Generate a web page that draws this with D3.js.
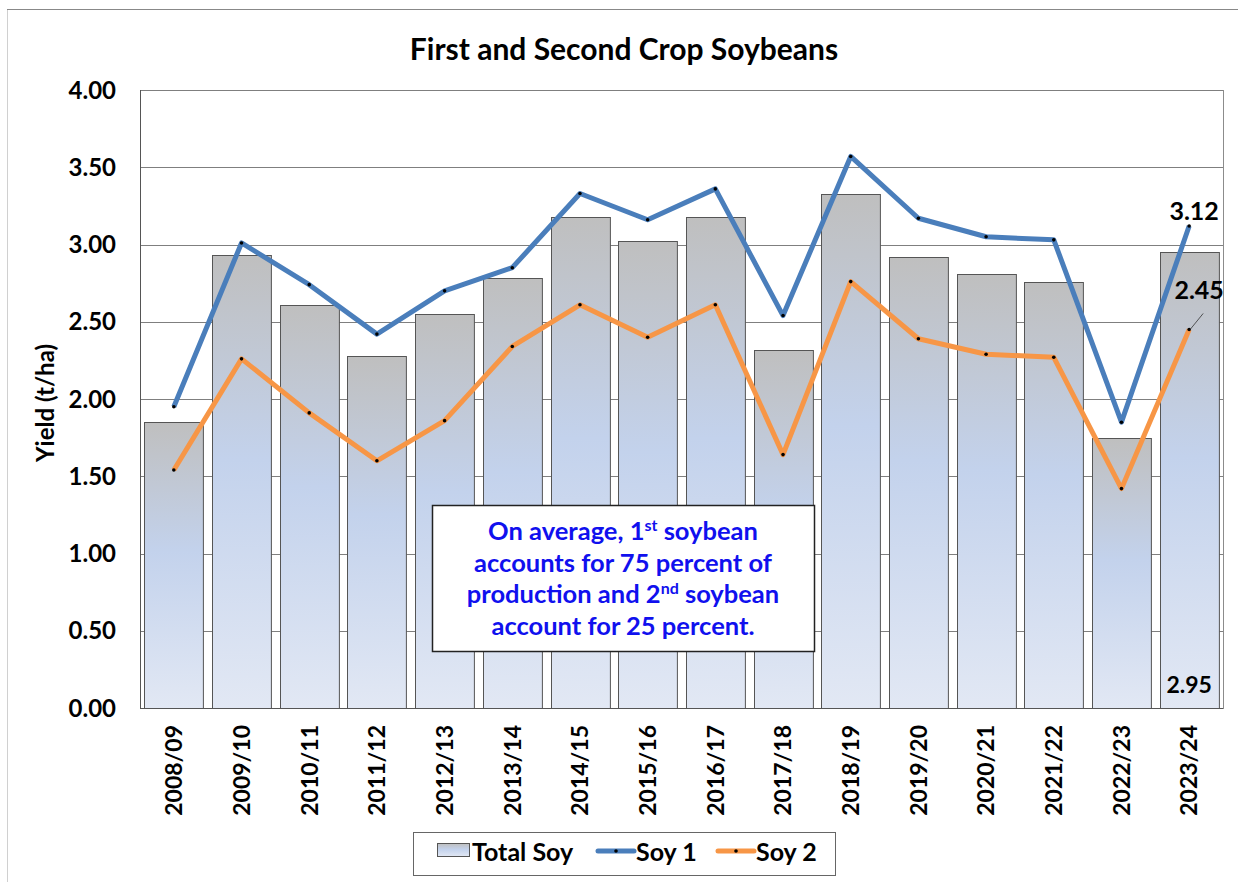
<!DOCTYPE html>
<html lang="en">
<head>
    <meta charset="UTF-8">
    <title>First and Second Crop Soybeans</title>
    <script src="https://d3js.org/d3.v7.min.js"></script>
    <style>
        body { margin: 0; background: #fff; }
        svg { display: block; font-family: Lato, "Open Sans", sans-serif; font-weight: bold; }
    </style>
</head>
<body>
    <svg></svg>
    <script>
        const seasons = ["2008/09", "2009/10", "2010/11", "2011/12", "2012/13", "2013/14", "2014/15", "2015/16",
            "2016/17", "2017/18", "2018/19", "2019/20", "2020/21", "2021/22", "2022/23", "2023/24"];
        const totalSoy = [1.85, 2.93, 2.61, 2.28, 2.55, 2.78, 3.18, 3.02, 3.18, 2.32, 3.33, 2.92, 2.81, 2.76, 1.75, 2.95];
        const soy1 = [1.95, 3.01, 2.74, 2.42, 2.70, 2.85, 3.33, 3.16, 3.36, 2.54, 3.57, 3.17, 3.05, 3.03, 1.85, 3.12];
        const soy2 = [1.54, 2.26, 1.91, 1.60, 1.86, 2.34, 2.61, 2.40, 2.61, 1.64, 2.76, 2.39, 2.29, 2.27, 1.42, 2.45];
        const yTicks = [0, 0.5, 1, 1.5, 2, 2.5, 3, 3.5, 4];
        const noteLines = [
            ["On average, 1", "st", " soybean"],
            ["accounts for 75 percent of"],
            ["production and 2", "nd", " soybean"],
            ["account for 25 percent."]
        ];

        const W = 1238, H = 882;
        const plotL = 140, plotR = 1223, plotT = 90, plotB = 708;

        const svg = d3.select("svg").attr("width", W).attr("height", H);

        const defs = svg.append("defs");
        const grad = defs.append("linearGradient")
            .attr("id", "barGrad")
            .attr("x1", 0).attr("y1", 0).attr("x2", 0).attr("y2", 1);
        grad.append("stop").attr("offset", "0%").attr("stop-color", "#bfbfbf");
        grad.append("stop").attr("offset", "45%").attr("stop-color", "#c3d2ec");
        grad.append("stop").attr("offset", "100%").attr("stop-color", "#e2e8f4");

        // chart frame
        svg.append("rect")
            .attr("x", 7.5).attr("y", 9.5)
            .attr("width", W - 5).attr("height", H)
            .attr("fill", "none").attr("stroke", "#d0d0d0");
        svg.append("line")
            .attr("x1", 7).attr("x2", W).attr("y1", 9.5).attr("y2", 9.5)
            .attr("stroke", "#888");

        const x = d3.scaleBand().domain(seasons).range([plotL, plotR]).paddingInner(0.13).paddingOuter(0.065);
        const y = d3.scaleLinear().domain([0, 4]).range([plotB, plotT]);

        // plot border + gridlines
        svg.append("rect")
            .attr("x", plotL + 0.5).attr("y", plotT + 0.5)
            .attr("width", plotR - plotL).attr("height", plotB - plotT)
            .attr("fill", "#fff").attr("stroke", "#8c8c8c");

        svg.append("g")
            .selectAll("line")
            .data(yTicks)
            .join("line")
            .attr("x1", plotL).attr("x2", plotR)
            .attr("y1", d => Math.round(y(d)) + 0.5).attr("y2", d => Math.round(y(d)) + 0.5)
            .attr("stroke", "#7f7f7f");

        // bars
        svg.append("g")
            .selectAll("rect")
            .data(totalSoy)
            .join("rect")
            .attr("x", (d, i) => Math.round(x(seasons[i])) + 0.5)
            .attr("y", d => Math.round(y(d)) + 0.5)
            .attr("width", x.bandwidth())
            .attr("height", d => plotB - Math.round(y(d)))
            .attr("fill", "url(#barGrad)")
            .attr("stroke", "#555");

        // axes lines
        svg.append("line")
            .attr("x1", plotL + 0.5).attr("x2", plotL + 0.5).attr("y1", plotT).attr("y2", plotB)
            .attr("stroke", "#555");
        svg.append("line")
            .attr("x1", plotL).attr("x2", plotR).attr("y1", plotB + 0.5).attr("y2", plotB + 0.5)
            .attr("stroke", "#555");

        // y tick labels
        svg.append("g")
            .selectAll("text")
            .data(yTicks)
            .join("text")
            .attr("x", 116)
            .attr("y", d => y(d))
            .attr("dy", "0.36em")
            .attr("text-anchor", "end")
            .attr("font-size", 24)
            .text(d => d3.format(".2f")(d));

        // y title
        svg.append("text")
            .attr("transform", `translate(54,${(plotT + plotB) / 2 + 4}) rotate(-90)`)
            .attr("text-anchor", "middle")
            .attr("font-size", 24)
            .text("Yield (t/ha)");

        // x labels
        svg.append("g")
            .selectAll("text")
            .data(seasons)
            .join("text")
            .attr("transform", d => `translate(${x(d) + x.bandwidth() / 2},725) rotate(-90)`)
            .attr("dy", "0.36em")
            .attr("text-anchor", "end")
            .attr("font-size", 23)
            .text(d => d);

        // lines
        const cx = i => x(seasons[i]) + x.bandwidth() / 2;
        const line = d3.line().x((d, i) => cx(i)).y(d => y(d));
        const series = [
            { name: "Soy 1", values: soy1, color: "#4a7ebb" },
            { name: "Soy 2", values: soy2, color: "#f79646" }
        ];
        series.forEach(s => {
            svg.append("path")
                .datum(s.values)
                .attr("d", line)
                .attr("fill", "none")
                .attr("stroke", s.color)
                .attr("stroke-width", 5)
                .attr("stroke-linejoin", "round");
            svg.append("g")
                .selectAll("circle")
                .data(s.values)
                .join("circle")
                .attr("cx", (d, i) => cx(i))
                .attr("cy", d => y(d))
                .attr("r", 1.8)
                .attr("fill", "#000");
        });

        // data labels
        const last = seasons.length - 1;
        svg.append("text")
            .attr("x", cx(last) + 5).attr("y", y(soy1[last]) - 6)
            .attr("text-anchor", "middle").attr("font-size", 25)
            .text(soy1[last].toFixed(2));
        svg.append("text")
            .attr("x", cx(last) + 10).attr("y", y(soy2[last]) - 30)
            .attr("text-anchor", "middle").attr("font-size", 25)
            .text(soy2[last].toFixed(2));
        svg.append("line")
            .attr("x1", cx(last) + 1).attr("y1", y(soy2[last]))
            .attr("x2", cx(last) + 14).attr("y2", y(soy2[last]) - 16)
            .attr("stroke", "#333").attr("stroke-width", 0.8);
        svg.append("text")
            .attr("x", cx(last)).attr("y", plotB - 15)
            .attr("text-anchor", "middle").attr("font-size", 23)
            .text(totalSoy[last].toFixed(2));

        // title
        svg.append("text")
            .attr("x", 624).attr("y", 60)
            .attr("text-anchor", "middle")
            .attr("font-size", 30)
            .text("First and Second Crop Soybeans");

        // note box
        svg.append("rect")
            .attr("x", 432.5).attr("y", 505.5)
            .attr("width", 382).attr("height", 146)
            .attr("fill", "#fff").attr("stroke", "#222").attr("stroke-width", 1.5);
        noteLines.forEach((parts, li) => {
            const t = svg.append("text")
                .attr("x", 623).attr("y", 540 + li * 31.5)
                .attr("text-anchor", "middle")
                .attr("font-size", 25.5)
                .attr("fill", "#1010ee");
            parts.forEach((p, pi) => {
                if (pi === 1) t.append("tspan").attr("dy", -9).attr("font-size", 16).text(p);
                else if (pi === 2) t.append("tspan").attr("dy", 9).text(p);
                else t.append("tspan").text(p);
            });
        });

        // legend
        const lg = svg.append("g");
        lg.append("rect")
            .attr("x", 413.5).attr("y", 832.5).attr("width", 422).attr("height", 43)
            .attr("fill", "#fff").attr("stroke", "#666");
        lg.append("rect")
            .attr("x", 437.5).attr("y", 843.5).attr("width", 32).attr("height", 13)
            .attr("fill", "url(#barGrad)").attr("stroke", "#555");
        lg.append("text").attr("x", 472).attr("y", 861).attr("font-size", 25).text("Total Soy");
        const legendLines = [{ x: 598, tx: 636 }, { x: 718, tx: 756 }];
        series.forEach((s, i) => {
            const l = legendLines[i];
            lg.append("line")
                .attr("x1", l.x).attr("x2", l.x + 36).attr("y1", 851).attr("y2", 851)
                .attr("stroke", s.color).attr("stroke-width", 5).attr("stroke-linecap", "round");
            lg.append("circle").attr("cx", l.x + 18).attr("cy", 851).attr("r", 1.8).attr("fill", "#000");
            lg.append("text").attr("x", l.tx).attr("y", 861).attr("font-size", 25).text(s.name);
        });
    </script>
</body>
</html>
